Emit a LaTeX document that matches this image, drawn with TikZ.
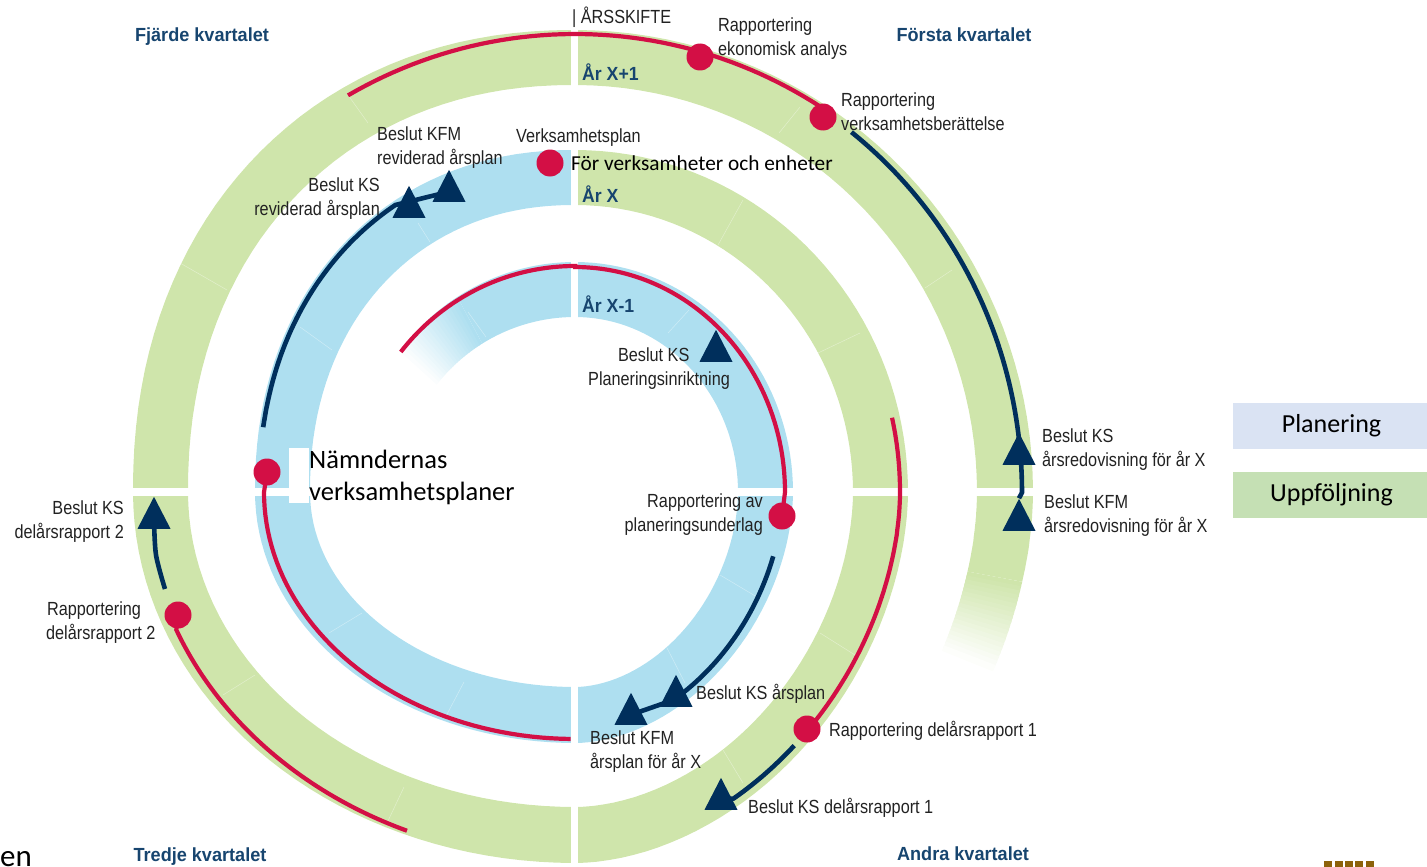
\documentclass[tikz,border=0pt]{standalone}
\usepackage{fontspec}
\usetikzlibrary{shapes.geometric}
\setmainfont{Liberation Sans}
\newfontfamily\calfont{Carlito}
\definecolor{ringgreen}{HTML}{CFE5AB}
\definecolor{ringblue}{HTML}{AEDFF0}
\definecolor{mark red}{HTML}{D30F45}
\definecolor{navy}{HTML}{002F5C}
\definecolor{titleblue}{HTML}{17456F}
\definecolor{ink}{HTML}{222222}
\definecolor{legblue}{HTML}{DAE3F3}
\definecolor{leggreen}{HTML}{C5E0B4}
\definecolor{crest}{HTML}{8C620A}
\pgfdeclarelayer{rings}
\pgfdeclarelayer{lines}
\pgfsetlayers{rings,lines,main}
\tikzset{
  declare function={
    spx(\t,\n)=(cos(\t)<0?-1:1)*pow(max(abs(cos(\t)),.001),2/\n);
    spy(\t,\n)=(sin(\t)<0?-1:1)*pow(max(abs(sin(\t)),.001),2/\n);
  },
  x=1pt,y=-1pt,
  lbl/.style={font=\fontsize{19}{24}\selectfont,text=ink,align=left,inner sep=0pt,xscale=.855,yshift=-2pt},
  title/.style={font=\fontsize{19}{24}\selectfont\bfseries,text=titleblue,inner sep=0pt,xscale=.953,anchor=base},
  yearlbl/.style={font=\fontsize{19}{24}\selectfont\bfseries,text=titleblue,inner sep=0pt,anchor=west,xscale=.93},
  callbl/.style={text=black,inner sep=0pt,align=left},
  dot/.style={circle,fill=mark red,minimum size=27pt,inner sep=0pt},
  tri/.style={isosceles triangle,isosceles triangle stretches,shape border rotate=90,fill=navy,minimum height=32pt,minimum width=33pt,inner sep=0pt,anchor=lower side},
  redline/.style={draw=mark red,line width=4.2pt},
  navyline/.style={draw=navy,line width=4.6pt},
  seam/.style={draw=white,line width=.5pt,opacity=.4},
  legend/.style={minimum width=197pt,minimum height=46pt,inner sep=0pt,font=\calfont\fontsize{26}{28}\selectfont,text=black},
}
% #1,#2 parameter range; #3,#4 outer radii; #5,#6 inner radii; #7 colour; #8 exponent
\newcommand\ringq[8]{\fill[#7] plot[domain=#1:#2,samples=40] ({575+#3*spx(\x,#8)},{492+#4*spy(\x,#8)}) -- plot[domain=#2:#1,samples=40] ({575+#5*spx(\x,#8)},{492+#6*spy(\x,#8)}) -- cycle;}
\begin{document}
\begin{tikzpicture}
\useasboundingbox (0,0) rectangle (1427,867);
\begin{pgfonlayer}{rings}
\ringq{-90}{0}{218}{230}{163}{175}{ringblue}{2}
\ringq{0}{90}{218}{251}{163}{195}{ringblue}{1.85}
\ringq{90}{180}{320}{251}{265}{195}{ringblue}{2}
\ringq{180}{270}{320}{342}{265}{287}{ringblue}{2.15}
\ringq{-90}{0}{333}{342}{278}{287}{ringgreen}{2}
\ringq{0}{90}{333}{371}{278}{315}{ringgreen}{1.85}
\ringq{90}{180}{442}{371}{387}{315}{ringgreen}{2}
\ringq{180}{270}{442}{462}{387}{407}{ringgreen}{2.15}
\ringq{-90}{0}{458}{462}{402}{407}{ringgreen}{2}
% fading ends
\ringq{-122}{-90}{222}{230}{175}{175}{ringblue}{2}
\foreach \t in {0,...,19}{
  \pgfmathsetmacro\pct{100-5*\t}
  \pgfmathsetmacro\ta{-122-\t}
  \pgfmathsetmacro\tb{-123.2-\t}
  \ringq{\tb}{\ta}{222}{230}{175}{175}{ringblue!\pct!white}{2}
}
\ringq{0}{12}{458}{490}{402}{434}{ringgreen}{1.85}
\foreach \t in {0,...,19}{
  \pgfmathsetmacro\pct{100-5*\t}
  \pgfmathsetmacro\ta{12+.55*\t}
  \pgfmathsetmacro\tb{12.8+.55*\t}
  \ringq{\ta}{\tb}{458}{490}{402}{434}{ringgreen!\pct!white}{1.85}
}
% seams
\foreach \a/\b/\c/\d in {348/95/368/123,800/107/779/133,743/200/718/245,418/223/430/242,468/312/486/337,689/310/668/333,860/333/818/353,720/575/757/597,667/648/685/683,820/633/855/655,723/750/743/783,362/613/329/633,464/682/445/718,255/675/223/695,404/787/387/823,300/327/332/350,180/263/227/290,952/270/925/288}
  \draw[seam] (\a,\b) -- (\c,\d);
% gaps
\fill[white] (571,20) rectangle (578,867);
\fill[white] (120,488) rectangle (1040,496);
\fill[white] (289,448) rectangle (309,503);
\end{pgfonlayer}
% marks
\node[dot] (d1) at (700,57) {};
\node[dot] (d2) at (823,117) {};
\node[dot] (d3) at (550,163) {};
\node[dot] (d4) at (267,472) {};
\node[dot] (d5) at (782,516) {};
\node[dot] (d6) at (807,729) {};
\node[dot] (d7) at (178,615) {};
\node[tri] (t1) at (1019,465) {};
\node[tri] (t2) at (1019,531) {};
\node[tri] (t3) at (409,218) {};
\node[tri] (t4) at (449,202) {};
\node[tri] (t5) at (676,707) {};
\node[tri] (t6) at (631,725) {};
\node[tri] (t7) at (721,810) {};
\node[tri] (t8) at (154,529) {};
\node[tri] (t9) at (716,362) {};
\coordinate (n5s) at (165,589);
% connectors
\begin{pgfonlayer}{lines}
\draw[redline] plot[domain=240:303,samples=50] ({575+454*spx(\x,2)},{492+458*spy(\x,2)}) -- (d2.center);
\draw[redline] plot[domain=-141.7:-90,samples=50] ({575+222*spx(\x,2)},{492+226*spy(\x,2)}) -- plot[domain=-90:0,samples=50] ({575+210*spx(\x,2)},{492+225*spy(\x,2)}) -- (d5.center);
\draw[redline] (d4.center) -- plot[domain=180:90.8,samples=50] ({575+311*spx(\x,2)},{492+247*spy(\x,2)});
\draw[redline] (d7.center) -- plot[domain=158:113,samples=50] ({575+430*spx(\x,2)},{492+368*spy(\x,2)});
\draw[redline] plot[domain=-12.7:0,samples=20] ({575+325*spx(\x,2)},{492+338*spy(\x,2)}) -- plot[domain=0:43,samples=50] ({575+325*spx(\x,1.85)},{492+362*spy(\x,1.85)}) -- (d6.center);
\draw[navyline] plot[domain=-51.8:0,samples=50] ({575+447*spx(\x,2)},{492+458*spy(\x,2)}) -- (t2.apex);
\draw[navyline] plot[domain=189.7:237,samples=50] ({575+316*spx(\x,2.15)},{492+338*spy(\x,2.15)}) -- (t4.center);
\draw[navyline] plot[domain=17:60,samples=50] ({575+208*spx(\x,1.85)},{492+243*spy(\x,1.85)}) -- (t6.center);
\draw[navyline] plot[domain=46:59,samples=20] ({575+325*spx(\x,1.85)},{492+362*spy(\x,1.85)}) -- (t7.center);
\draw[navyline] plot[smooth] coordinates {(n5s) (156,555) (t8.center)};
\end{pgfonlayer}
% titles
\node[title] (q4) at (202,42) {Fjärde kvartalet};
\node[title] (q1) at (964,42) {Första kvartalet};
\node[title] (q3) at (200,861) {Tredje kvartalet};
\node[title] (q2) at (963,860) {Andra kvartalet};
\node[yearlbl] (y1) at (582,72) {År X+1};
\node[yearlbl] (y2) at (582,194) {År X};
\node[yearlbl] (y3) at (582,304) {År X-1};
% labels
\node[lbl,anchor=west] (l0) at (572,15) {| ÅRSSKIFTE};
\node[lbl,anchor=west] (l1) at (718,37) {Rapportering\\ekonomisk analys};
\node[lbl,anchor=west] (l2) at (841,110) {Rapportering\\verksamhetsberättelse};
\node[lbl,anchor=west] (l3) at (516,136) {Verksamhetsplan};
\node[lbl,anchor=west] (l4) at (377,146) {Beslut KFM\\reviderad årsplan};
\node[lbl,anchor=east,align=right] (l5) at (380,197) {Beslut KS\\reviderad årsplan};
\node[lbl,anchor=west] (l6) at (588,367) {\hspace*{35pt}Beslut KS\\Planeringsinriktning};
\node[lbl,anchor=east,align=right] (l7) at (763,513) {Rapportering av\\planeringsunderlag};
\node[lbl,anchor=west] (l8) at (1042,448) {Beslut KS\\årsredovisning för år X};
\node[lbl,anchor=west] (l9) at (1044,514) {Beslut KFM\\årsredovisning för år X};
\node[lbl,anchor=west] (l10) at (696,692) {Beslut KS årsplan};
\node[lbl,anchor=west] (l11) at (829,729) {Rapportering delårsrapport 1};
\node[lbl,anchor=west] (l12) at (748,806) {Beslut KS delårsrapport 1};
\node[lbl,anchor=west] (l13) at (590,750) {Beslut KFM\\årsplan för år X};
\node[lbl,anchor=east,align=right] (l14) at (124,520) {Beslut KS\\delårsrapport 2};
\node[lbl,anchor=west] (l15) at (46,621) {\hspace*{1pt}Rapportering\\delårsrapport 2};
% overlaid texts
\node[callbl,anchor=west,font=\calfont\fontsize{21.3}{24}\selectfont] (c1) at (571,163) {För verksamheter och enheter};
\node[callbl,anchor=west,font=\calfont\fontsize{26.5}{32}\selectfont] (c2) at (309,477) {Nämndernas\\verksamhetsplaner};
\node[callbl,anchor=base west,font=\calfont\fontsize{31}{32}\selectfont] (c3) at (0,866) {en};
% legend
\node[legend,fill=legblue] (leg1) at (1331.5,426) {\raisebox{-3pt}{Planering}};
\node[legend,fill=leggreen] (leg2) at (1331.5,495) {\raisebox{-3pt}{Uppföljning}};
% crest
\foreach \xx in {1324,1334.5,1345,1355,1366}
  \fill[crest] (\xx,861) rectangle ++(8,6);
\end{tikzpicture}
\end{document}
